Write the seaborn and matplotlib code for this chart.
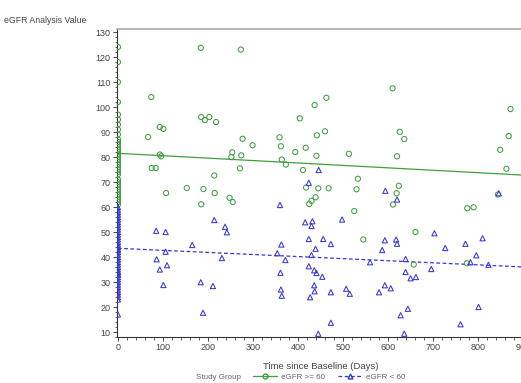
import numpy as np
import pandas as pd
import seaborn as sns
import matplotlib.pyplot as plt
from matplotlib.ticker import MultipleLocator
from matplotlib.lines import Line2D

# eGFR >= 60 group (green circles)
hi_day0 = [124, 118, 110, 102, 97, 95, 93, 91, 89, 87, 86, 85, 84, 83, 82, 81, 80, 79, 78,
           77, 76, 75, 74, 73, 71, 70, 69, 68, 67, 66, 65, 64, 63, 62, 61]
hi_days = [184, 273, 74, 185, 193, 203, 218, 93, 101, 67, 277, 299, 93, 96, 254, 252, 274,
           75, 84, 271, 214, 107, 153, 190, 215, 248,
           610, 463, 437, 404, 872, 359, 442, 460, 626, 636, 868, 362, 417, 394, 441, 513,
           620, 849, 364, 373, 863, 411, 533, 530, 418, 445, 468, 624, 619, 439, 844,
           425, 430, 525, 611, 776, 790, 661, 545, 657, 775, 185, 255]
hi_vals = [123.7, 123, 104, 96, 94.8, 96, 94, 92, 91.3, 88, 87.3, 84.7, 81, 80.3, 81.9, 80,
           80.7, 75.6, 75.6, 75.5, 72.6, 65.6, 67.6, 67.2, 65.6, 63.7,
           107.5, 103.7, 100.8, 95.5, 99.2, 87.9, 88.7, 90.3, 90.1, 87.2, 88.4, 84.3, 83.7,
           82, 80.5, 81.3, 80.3, 82.9, 79, 77, 75.3, 74.8, 71.3, 67.1, 67.8, 67.5, 67.5,
           68.5, 65.5, 63.9, 65,
           61.2, 62.5, 58.4, 61, 59.5, 59.9, 50, 47, 37, 37.5, 61.1, 62]

# eGFR < 60 group (blue triangles)
lo_day0 = [60, 59, 58, 57, 56, 55, 54, 53, 52, 51, 50, 49, 48, 47, 46, 45, 44, 43, 43, 42,
           41, 40, 39, 38, 37, 36, 35, 34, 34, 33, 33, 32, 31, 30, 29, 28, 27, 26, 25, 24,
           23, 17]
lo_days = [85, 106, 106, 86, 93, 109, 101, 165, 214, 238, 242, 231, 184, 211, 189,
           446, 424, 594, 620, 846,
           360, 416, 432, 430, 498, 363, 424, 456, 473, 439, 354, 372, 430, 424, 436, 441,
           454, 361, 362, 364, 436, 437, 427, 473, 507, 515, 473, 445, 560, 587, 593, 618,
           620, 580, 593, 606, 639, 639, 650, 662, 644, 628, 636, 703, 727, 696, 772, 810,
           796, 783, 823, 801, 761]
lo_vals = [50.5, 50, 42.1, 39.1, 35, 36.7, 28.8, 44.8, 54.8, 52.1, 49.9, 39.6, 29.9, 28.4,
           17.7,
           74.8, 69.7, 66.5, 63, 65.5,
           60.8, 53.9, 54.3, 52.4, 55, 45, 47.2, 47.2, 45.2, 43.3, 41.5, 38.8, 40.8, 36.3,
           34.7, 33.6, 32.1, 33.7, 27, 24.5, 28.7, 26.3, 23.9, 25.9, 27.3, 25.3, 13.7, 9.3,
           37.9, 42.8, 46.7, 47, 45.3, 25.9, 28.7, 27.5, 39.2, 34, 31.5, 32, 19.3, 16.7, 9.3,
           49.5, 43.6, 35.2, 45.3, 47.5, 40.7, 37.9, 36.9, 20, 13.1]

# regression fits
fit_hi = (81.5, -0.0097)
fit_lo = (43.5, -0.0083)

green = '#3f9f3f'
blue = '#3636d8'

hi = pd.DataFrame({'day': [0] * len(hi_day0) + hi_days, 'val': hi_day0 + hi_vals})
lo = pd.DataFrame({'day': [0] * len(lo_day0) + lo_days, 'val': lo_day0 + lo_vals})

sns.set_style('ticks')
plt.rcParams['font.family'] = ['Liberation Sans', 'DejaVu Sans']

fig = plt.figure(figsize=(5.21, 3.83), dpi=100)
ax = fig.add_axes([0.2246, 0.1201, 0.814, 0.804])

sns.scatterplot(data=hi, x='day', y='val', marker='o', s=14, facecolor='none',
                edgecolor=green, linewidth=0.75, ax=ax, zorder=3)
sns.scatterplot(data=lo, x='day', y='val', marker='^', s=14, facecolor='none',
                edgecolor=blue, linewidth=0.75, ax=ax, zorder=3)

xline = np.array([0, 940])
sns.lineplot(x=xline, y=fit_hi[0] + fit_hi[1] * xline, color=green, lw=0.9, ax=ax)
sns.lineplot(x=xline, y=fit_lo[0] + fit_lo[1] * xline, color=blue, lw=0.9,
             linestyle=(0, (3, 2)), ax=ax)

ax.set_xlim(-2, 940)
ax.set_ylim(8, 131.2)
ax.xaxis.set_major_locator(MultipleLocator(100))
ax.xaxis.set_minor_locator(MultipleLocator(20))
ax.yaxis.set_major_locator(MultipleLocator(10))
ax.yaxis.set_minor_locator(MultipleLocator(2))
ax.set_yticks(range(10, 131, 10))
ax.tick_params(which='major', length=3, width=0.7, labelsize=6.5, colors='#444444',
               pad=1.5)
ax.tick_params(which='minor', length=1.8, width=0.6, colors='#444444')
ax.set_xlabel('')
ax.set_ylabel('')

for side in ['left', 'bottom']:
    ax.spines[side].set_color('#333333')
    ax.spines[side].set_linewidth(0.8)
ax.spines['top'].set_visible(True)
ax.spines['top'].set_color('#aaaaaa')
ax.spines['top'].set_linewidth(1.2)
ax.spines['right'].set_visible(False)

fig.text(0.008, 0.947, 'eGFR Analysis Value', fontsize=6.3, color='#444444', va='center')
fig.text(0.616, 0.044, 'Time since Baseline (Days)', fontsize=6.8, color='#444444',
         ha='center', va='center')

handles = [Line2D([], [], color='none', lw=0),
           Line2D([], [], color=green, marker='o', mfc='none', lw=0.9, ms=3.5),
           Line2D([], [], color=blue, marker='^', mfc='none', lw=0.9, ms=3.5,
                  linestyle=(0, (3, 2)))]
fig.legend(handles, ['Study Group', 'eGFR >= 60', 'eGFR < 60'], ncol=3,
           loc='center', bbox_to_anchor=(0.55, 0.016), frameon=False,
           fontsize=5.8, labelcolor='#666666', handlelength=3, handletextpad=0.5,
           columnspacing=1.5, borderpad=0, borderaxespad=0)

fig.savefig('out.png', dpi=100)
